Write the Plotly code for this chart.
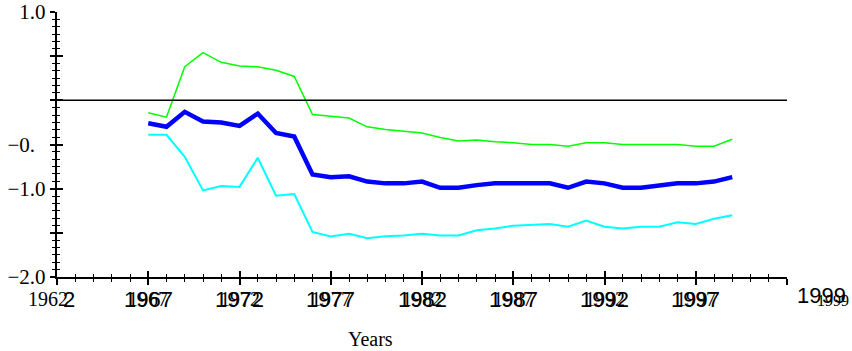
import plotly.graph_objects as go

# Yearly estimate with its upper and lower bands
years = list(range(1967, 2000))
upper = [-0.14, -0.19, 0.38, 0.54, 0.43, 0.39, 0.38, 0.34, 0.27, -0.16,
         -0.18, -0.20, -0.30, -0.33, -0.35, -0.37, -0.42, -0.46, -0.45, -0.47,
         -0.48, -0.50, -0.50, -0.52, -0.48, -0.48, -0.50, -0.50, -0.50, -0.50,
         -0.52, -0.52, -0.44]
estimate = [-0.26, -0.30, -0.13, -0.24, -0.25, -0.29, -0.15, -0.37, -0.41, -0.84,
            -0.87, -0.86, -0.92, -0.94, -0.94, -0.92, -0.99, -0.99, -0.96, -0.94,
            -0.94, -0.94, -0.94, -0.99, -0.92, -0.94, -0.99, -0.99, -0.96, -0.94,
            -0.94, -0.92, -0.87]
lower = [-0.39, -0.39, -0.64, -1.02, -0.97, -0.98, -0.65, -1.08, -1.06, -1.49,
         -1.54, -1.51, -1.56, -1.54, -1.53, -1.51, -1.53, -1.53, -1.47, -1.45,
         -1.42, -1.41, -1.40, -1.43, -1.36, -1.43, -1.45, -1.43, -1.43, -1.38,
         -1.40, -1.34, -1.30]

# Axis ticks and labels
x_major = list(range(1962, 2003, 5))
x_label_years = [1967, 1972, 1977, 1982, 1987, 1992, 1997]
x_label_text = ["1967", "1972", "1977", "1982", "1987", "1992", "1997"]
y_major = [1.0, 0.5, 0.0, -0.5, -1.0, -1.5, -2.0]
y_major_text = ["1.0", "", "", "\u22120.\u2007", "\u22121.0", "", "\u22122.0"]
x_title = "Years"

SERIF = "Liberation Serif, Times New Roman, serif"
SANS = "Liberation Sans, Arial, sans-serif"

fig = go.Figure()
fig.add_trace(go.Scatter(x=years, y=upper, mode="lines", name="upper",
                         line=dict(color="#00ff00", width=1.5)))
fig.add_trace(go.Scatter(x=years, y=lower, mode="lines", name="lower",
                         line=dict(color="#00ffff", width=2)))
fig.add_trace(go.Scatter(x=years, y=estimate, mode="lines", name="estimate",
                         line=dict(color="#0000ff", width=4.5)))
# carrier for the inward tick axes
fig.add_trace(go.Scatter(x=[], y=[], xaxis="x2", yaxis="y2",
                         showlegend=False, hoverinfo="skip"))

fig.add_hline(y=0, line=dict(color="black", width=1.5))

tick_style = dict(tickcolor="black", tickwidth=1.5, showgrid=False,
                  zeroline=False, automargin=False)

fig.update_layout(
    width=852, height=351, autosize=False,
    margin=dict(l=57, r=65, t=12, b=74),
    paper_bgcolor="white", plot_bgcolor="white",
    showlegend=False,
    xaxis=dict(range=[1962, 2002], showline=True, linecolor="black", linewidth=1.5,
               ticks="outside", ticklen=6, tickmode="array",
               tickvals=x_major, showticklabels=False,
               minor=dict(ticks="outside", ticklen=3.5, tickmode="linear",
                          tick0=1962, dtick=1, tickcolor="black", tickwidth=1.2),
               **tick_style),
    xaxis2=dict(range=[1962, 2002], overlaying="x", anchor="y", side="bottom",
                showline=False, showticklabels=False,
                ticks="inside", ticklen=6, tickmode="array", tickvals=x_major,
                minor=dict(ticks="inside", ticklen=3.5, tickmode="linear",
                           tick0=1962, dtick=1, tickcolor="black", tickwidth=1.2),
                **tick_style),
    yaxis=dict(range=[-2, 1], showline=True, linecolor="black", linewidth=1.5,
               ticks="outside", ticklen=5.5, tickmode="array",
               tickvals=y_major, ticktext=y_major_text,
               tickfont=dict(family=SERIF, size=21, color="black"),
               minor=dict(ticks="outside", ticklen=3.3, tickmode="linear",
                          tick0=0, dtick=1 / 12, tickcolor="black", tickwidth=1.2),
               **tick_style),
    yaxis2=dict(range=[-2, 1], overlaying="y", anchor="x", side="left",
                showline=False, showticklabels=False,
                ticks="inside", ticklen=5.5, tickmode="array", tickvals=y_major,
                minor=dict(ticks="inside", ticklen=3.3, tickmode="linear",
                           tick0=0, dtick=1 / 12, tickcolor="black", tickwidth=1.2),
                **tick_style),
)

# year labels: a serif layer with a sans-serif layer printed over it
for yr, txt in zip(x_label_years, x_label_text):
    fig.add_annotation(x=yr, xref="x", y=0, yref="paper", yanchor="middle",
                       yshift=-22, text=txt, showarrow=False,
                       font=dict(family=SERIF, size=20, color="black"))
    fig.add_annotation(x=yr, xref="x", y=0, yref="paper", yanchor="middle",
                       yshift=-22.5, text=txt, showarrow=False,
                       font=dict(family=SANS, size=22, color="black"))

# origin label
fig.add_annotation(x=1962, xref="x", y=0, yref="paper", yanchor="middle",
                   xshift=-9.5, yshift=-22, text="1962", showarrow=False,
                   font=dict(family=SERIF, size=20, color="black"))
fig.add_annotation(x=1962, xref="x", y=0, yref="paper", yanchor="middle",
                   xshift=12, yshift=-22.5, text="2", showarrow=False,
                   font=dict(family=SANS, size=22, color="black"))

# end-of-axis label
fig.add_annotation(x=1.0836, xref="paper", xanchor="right", y=0, yref="paper",
                   yanchor="middle", yshift=-18, text="1999", showarrow=False,
                   font=dict(family=SANS, size=22, color="black"))
fig.add_annotation(x=1.0876, xref="paper", xanchor="right", y=0, yref="paper",
                   yanchor="middle", yshift=-23, text="1999", showarrow=False,
                   font=dict(family=SERIF, size=16, color="black"))

fig.add_annotation(x=0.429, xref="paper", y=0, yref="paper", yanchor="middle",
                   yshift=-62, text=x_title, showarrow=False,
                   font=dict(family=SERIF, size=20, color="black"))

fig.write_html("out.html")
